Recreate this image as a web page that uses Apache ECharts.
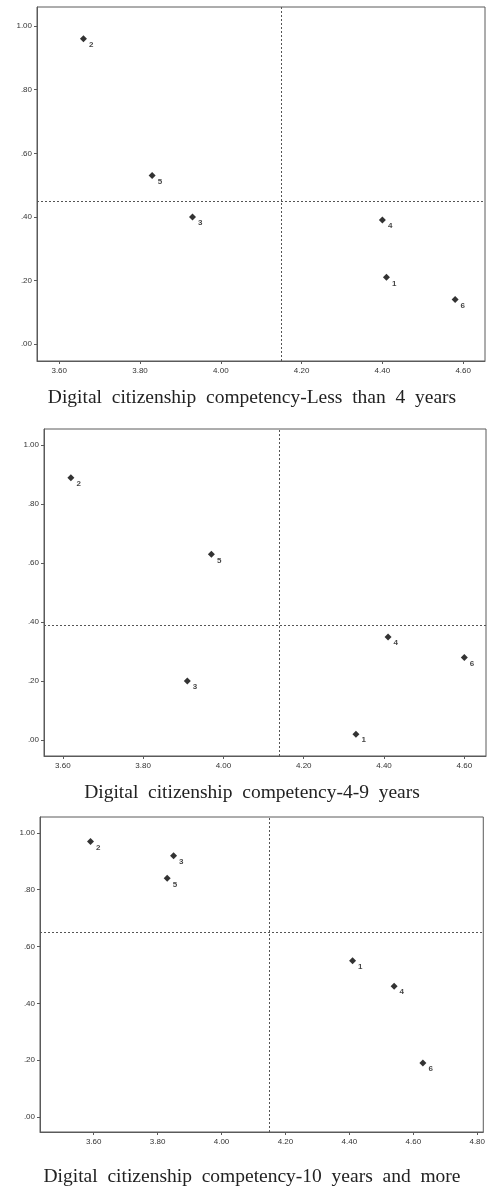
<!DOCTYPE html>
<html>
<head>
<meta charset="utf-8">
<script src="https://cdn.jsdelivr.net/npm/echarts@6/dist/echarts.min.js"></script>
<style>
html,body{margin:0;padding:0;background:#fff;}
#c{width:488px;height:1187px;}
</style>
</head>
<body>
<div id="c"></div>
<script>
// Point labels (items 1..6)
var pointLabels = ["1", "2", "3", "4", "5", "6"];

// Panel 1: Less than 4 years
var p1X = [4.41, 3.66, 3.93, 4.40, 3.83, 4.58];
var p1Y = [0.21, 0.96, 0.40, 0.39, 0.53, 0.14];
var p1RefX = 4.15, p1RefY = 0.45;

// Panel 2: 4-9 years
var p2X = [4.33, 3.62, 3.91, 4.41, 3.97, 4.60];
var p2Y = [0.02, 0.89, 0.20, 0.35, 0.63, 0.28];
var p2RefX = 4.14, p2RefY = 0.39;

// Panel 3: 10 years and more
var p3X = [4.41, 3.59, 3.85, 4.54, 3.83, 4.63];
var p3Y = [0.55, 0.97, 0.92, 0.46, 0.84, 0.19];
var p3RefX = 4.15, p3RefY = 0.65;

// Tick labels
var xTicks12 = [3.6, 3.8, 4.0, 4.2, 4.4, 4.6];
var xTicks3 = [3.6, 3.8, 4.0, 4.2, 4.4, 4.6, 4.8];
var yTicks = [0, 0.2, 0.4, 0.6, 0.8, 1.0];

var titles = [
  "Digital  citizenship  competency-Less  than  4  years",
  "Digital  citizenship  competency-4-9  years",
  "Digital  citizenship  competency-10  years  and  more"
];

var panels = [
  {x: p1X, y: p1Y, rx: p1RefX, ry: p1RefY, xt: xTicks12, xmin: 3.545, xmax: 4.654, ymin: -0.053, ymax: 1.06,
   grid: {left: 37, top: 7, width: 448, height: 354}, titleY: 398},
  {x: p2X, y: p2Y, rx: p2RefX, ry: p2RefY, xt: xTicks12, xmin: 3.553, xmax: 4.654, ymin: -0.054, ymax: 1.055,
   grid: {left: 44, top: 429, width: 442, height: 327}, titleY: 793},
  {x: p3X, y: p3Y, rx: p3RefX, ry: p3RefY, xt: xTicks3, xmin: 3.432, xmax: 4.819, ymin: -0.053, ymax: 1.056,
   grid: {left: 40, top: 817, width: 445, height: 315}, titleY: 1177}
];

var axisColor = '#5a5a5a';
var grids = [], xAxes = [], yAxes = [], series = [], graphics = [];

panels.forEach(function (p, i) {
  grids.push({left: p.grid.left, top: p.grid.top, width: p.grid.width, height: p.grid.height,
    show: true, borderColor: axisColor, borderWidth: 1, backgroundColor: '#fff'});
  xAxes.push({
    type: 'value', gridIndex: i, min: p.xmin, max: p.xmax,
    axisLine: {show: true, onZero: false, lineStyle: {color: axisColor, width: 1}},
    axisTick: {show: true, length: 3, customValues: p.xt, lineStyle: {color: axisColor}},
    axisLabel: {show: true, customValues: p.xt, margin: 6, fontSize: 8, color: '#333',
      fontFamily: 'Liberation Sans, Arial, sans-serif',
      formatter: function (v) { return v.toFixed(2); }},
    splitLine: {show: false}
  });
  yAxes.push({
    type: 'value', gridIndex: i, min: p.ymin, max: p.ymax,
    axisLine: {show: true, onZero: false, lineStyle: {color: axisColor, width: 1}},
    axisTick: {show: true, length: 3, customValues: yTicks, lineStyle: {color: axisColor}},
    axisLabel: {show: true, customValues: yTicks, margin: 5, fontSize: 8, color: '#333',
      fontFamily: 'Liberation Sans, Arial, sans-serif',
      formatter: function (v) { var s = Math.abs(v).toFixed(2); return s.charAt(0) === '0' ? s.slice(1) : s; }},
    splitLine: {show: false}
  });
  var data = p.x.map(function (xv, k) { return {value: [xv, p.y[k]], name: pointLabels[k]}; });
  series.push({
    type: 'scatter', xAxisIndex: i, yAxisIndex: i,
    symbol: 'diamond', symbolSize: [7, 7],
    itemStyle: {color: '#000'},
    data: data,
    label: {show: true, position: 'right', distance: 2, offset: [0, 6],
      formatter: function (d) { return d.name; },
      fontSize: 8, fontWeight: 'bold', color: '#111', fontFamily: 'Liberation Sans, Arial, sans-serif'},
    emphasis: {disabled: true},
    markLine: {
      silent: true, symbol: 'none', animation: false,
      label: {show: false},
      lineStyle: {color: '#555', width: 1, type: [2, 2]},
      data: [{xAxis: p.rx}, {yAxis: p.ry}]
    }
  });
  graphics.push({
    type: 'text', x: 252, y: p.titleY,
    style: {text: titles[i], fill: '#222', font: '19.5px "Liberation Serif", serif',
      textAlign: 'center', textVerticalAlign: 'middle'}
  });
});

var chart = echarts.init(document.getElementById('c'), null, {renderer: 'canvas'});
chart.setOption({
  animation: false,
  backgroundColor: '#fff',
  grid: grids, xAxis: xAxes, yAxis: yAxes, series: series,
  graphic: graphics
});
</script>
</body>
</html>
